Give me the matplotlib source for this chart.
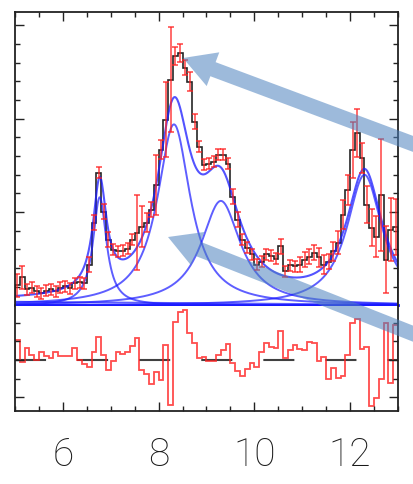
import numpy as np
import matplotlib
matplotlib.use("Agg")
import matplotlib.pyplot as plt
from matplotlib.patches import FancyArrow
from matplotlib.ticker import MultipleLocator, FixedLocator

# bins of 0.1 from 5 to 13
edges = np.round(np.arange(5.0, 13.0001, 0.1), 2)
centers = edges[:-1] + 0.05

# measured counts per bin (black histogram)
counts = [10.7, 15.0, 8.6, 9.6, 7.5, 6.4, 8.0, 8.6, 7.5, 9.6,
          10.2, 9.1, 11.8, 12.3, 11.8, 21.9, 44.4, 71.1, 50.3, 35.3,
          29.9, 28.9, 29.4, 30.5, 35.3, 39.0, 42.2, 44.4, 51.3, 64.7,
          83.4, 99.5, 120.9, 133.7, 135.3, 127.3, 119.8, 98.4, 85.0, 75.4,
          75.9, 77.0, 80.7, 80.7, 75.9, 58.3, 46.0, 35.3, 31.0, 27.3,
          21.9, 23.5, 27.3, 26.7, 25.1, 31.6, 18.2, 21.4, 20.9, 21.9,
          24.6, 26.2, 28.3, 25.7, 21.9, 23.5, 28.9, 33.7, 48.7, 62.0,
          83.4, 92.5, 79.1, 54.0, 41.7, 36.9, 59.4, 24.6, 40.6, 42.2]

errors = [6, 6, 3, 3, 3, 3, 3, 3, 3, 3,
          3, 3, 3, 3, 3, 4, 4, 3, 4, 4,
          3, 3, 3, 3, 3, 20, 11, 5, 4, 16,
          5, 20, 28, 5, 5, 4, 5, 4, 3, 3,
          3, 3, 3, 3, 3, 4, 4, 3, 3, 3,
          3, 3, 3, 3, 3, 4, 3, 3, 3, 4,
          4, 4, 4, 5, 5, 4, 5, 6, 8, 8,
          15, 13, 8, 10, 10, 11, 30, 18, 17, 15]

# residuals (lower panel)
resid = [1.08, -0.11, 0.65, 0.27, 0.0, 0.43, 0.22, 0.11, 0.43, 0.22,
         0.22, 0.22, 0.65, 0.0, -0.22, -0.38, 0.43, 1.24, 0.27, -0.54,
         -0.05, 0.43, 0.32, 0.43, 0.75, 1.18, -0.54, -0.75, -1.29, -0.65,
         -1.08, 0.81, -2.42, 2.04, 2.58, 2.69, 1.45, 0.91, 0.11, 0.16,
         -0.05, -0.05, 0.27, 0.54, 0.86, -0.16, -0.59, -0.86, -0.48, -0.16,
         -0.38, 0.43, 0.91, 0.7, 0.65, 1.56, 0.11, 0.54, 0.81, 0.59,
         0.54, 0.97, 0.91, -0.05, 0.16, -1.02, -0.43, -0.97, -0.86, 0.27,
         1.99, 2.2, 0.59, 0.7, -2.47, -2.04, -1.02, 1.99, -1.24, 1.88]

# Lorentzian fit components: centre, amplitude, half width
peak_pos = [6.77, 8.32, 9.30, 12.30]
peak_amp = [58, 97, 56, 70]
peak_hw = [0.17, 0.42, 0.50, 0.45]
bg_left, bg_right = 2.0, 0.4

xlabels = ["6", "8", "10", "12"]
xlabel_pos = [6, 8, 10, 12]

xs = np.linspace(5, 13, 600)
bg = bg_left + (bg_right - bg_left) * (xs - 5) / 8
comps = [a / (1 + ((xs - p) / w) ** 2) for p, a, w in zip(peak_pos, peak_amp, peak_hw)]
total = bg + np.sum(comps, axis=0)

fig = plt.figure(figsize=(4.14, 4.84), dpi=100)
W, H = 414, 484
ax1 = fig.add_axes([15 / W, 1 - 306 / H, 383 / W, 294 / H])
ax2 = fig.add_axes([15 / W, 1 - 411 / H, 383 / W, 105 / H])

blue = "#1a1aff"
ax1.axhline(0, color=blue, lw=2.0, clip_on=False)
ax1.plot(xs, bg, color=blue, lw=1.3, alpha=0.7)
for c in comps:
    ax1.plot(xs, c, color=blue, lw=1.4, alpha=0.7)
ax1.plot(xs, total, color=blue, lw=1.5, alpha=0.75)

ax1.stairs(counts, edges, color="black", lw=1.2, alpha=0.85)
ax1.errorbar(centers, counts, yerr=errors, fmt="none", ecolor="#ff2020",
             elinewidth=1.1, capsize=2.4, capthick=1.1, alpha=0.85)

ax1.set_xlim(5, 13)
ax1.set_ylim(-0.3, 157.2)

ax2.stairs(resid, edges, color="#ff2020", lw=1.3, alpha=0.8)
zl = ax2.axhline(0, color="#404040", lw=1.5, zorder=0)
zl.set_dashes((14.9, 14.9))
ax2.set_xlim(5, 13)
ax2.set_ylim(-2.74, 2.9)

for ax in (ax1, ax2):
    for s in ax.spines.values():
        s.set_linewidth(1.3)
        s.set_color("#222222")
    ax.xaxis.set_major_locator(FixedLocator(xlabel_pos))
    ax.xaxis.set_minor_locator(MultipleLocator(0.5))
    ax.tick_params(which="major", direction="in", length=6.5, width=1.0, color="#222222")
    ax.tick_params(which="minor", direction="in", length=3.3, width=1.0, color="#222222")
    ax.tick_params(axis="y", which="both", left=True, right=True, labelleft=False)

ax1.spines["bottom"].set_visible(False)
ax2.spines["top"].set_visible(False)
ax1.yaxis.set_major_locator(MultipleLocator(50))
ax1.yaxis.set_minor_locator(MultipleLocator(10))
ax1.tick_params(axis="x", which="both", top=True, bottom=False, labelbottom=False)
ax2.yaxis.set_major_locator(FixedLocator([-2, 0]))
ax2.yaxis.set_minor_locator(MultipleLocator(1))
ax2.tick_params(axis="x", which="both", top=False, bottom=True, labelbottom=True, pad=18)
ax2.set_xticklabels(xlabels, fontsize=28, color="#1a1a1a", family="Roboto", fontweight="light")

# big translucent arrows, in figure inches
arrow_col = "#4d82bf"
fig.add_artist(FancyArrow(4.24, 3.36, -2.41, 0.90, width=0.15, head_width=0.36,
                          head_length=0.32, length_includes_head=True,
                          transform=fig.dpi_scale_trans, color=arrow_col,
                          alpha=0.55, lw=0))
fig.add_artist(FancyArrow(4.24, 1.46, -2.56, 1.01, width=0.15, head_width=0.36,
                          head_length=0.32, length_includes_head=True,
                          transform=fig.dpi_scale_trans, color=arrow_col,
                          alpha=0.55, lw=0))

fig.savefig("out.png", dpi=100)
